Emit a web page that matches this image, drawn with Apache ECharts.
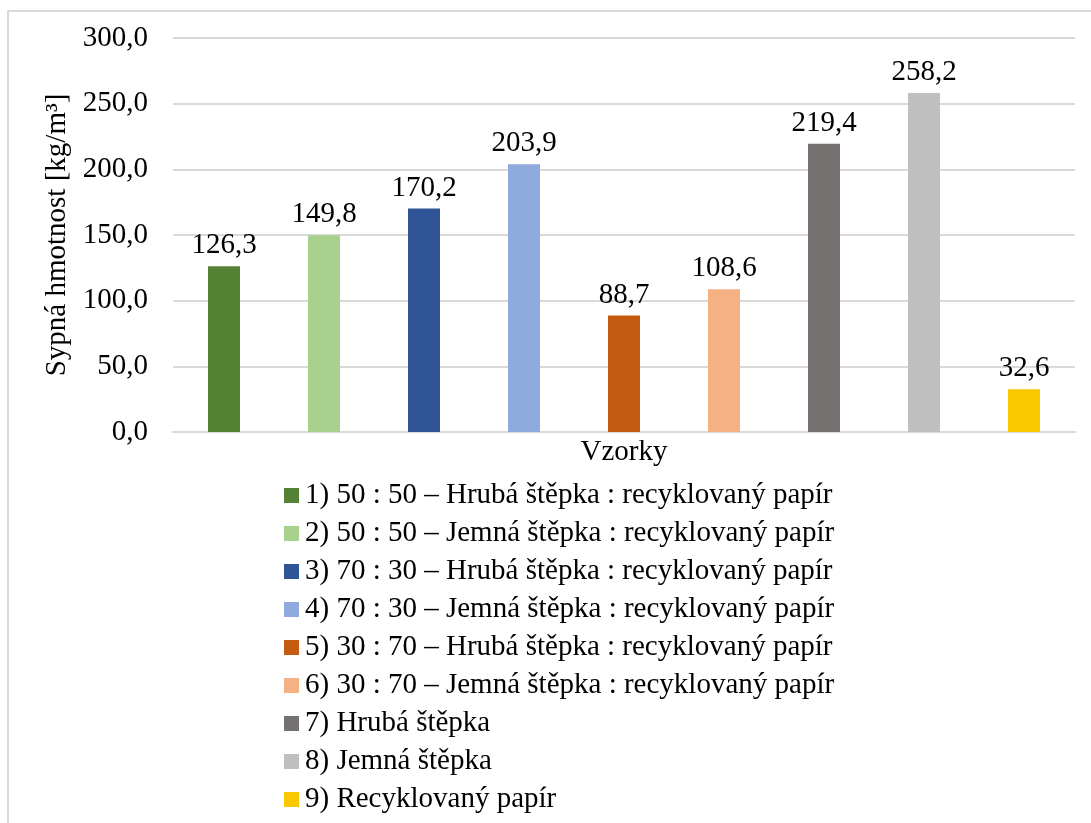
<!DOCTYPE html>
<html>
<head>
<meta charset="utf-8">
<script src="https://cdn.jsdelivr.net/npm/echarts@6/dist/echarts.min.js"></script>
<style>
  html, body { margin: 0; padding: 0; background: #fff; }
  #chart { width: 1091px; height: 823px; }
</style>
</head>
<body>
<div id="chart"></div>
<script>
// data
var sampleNames = [
    '1) 50 : 50 – Hrubá štěpka : recyklovaný papír',
    '2) 50 : 50 – Jemná štěpka : recyklovaný papír',
    '3) 70 : 30 – Hrubá štěpka : recyklovaný papír',
    '4) 70 : 30 – Jemná štěpka : recyklovaný papír',
    '5) 30 : 70 – Hrubá štěpka : recyklovaný papír',
    '6) 30 : 70 – Jemná štěpka : recyklovaný papír',
    '7) Hrubá štěpka',
    '8) Jemná štěpka',
    '9) Recyklovaný papír'
];
var densities = [126.3, 149.8, 170.2, 203.9, 88.7, 108.6, 219.4, 258.2, 32.6];
var barColors = ['#548235', '#a9d18e', '#2f5597', '#8faadc', '#c55a11', '#f4b183', '#767171', '#bfbfbf', '#fac800'];

var font = 'Liberation Serif, Times New Roman, serif';
var fs = 29;

function czNum(v) {
    return v.toFixed(1).replace('.', ',');
}

var myChart = echarts.init(document.getElementById('chart'), null, { renderer: 'canvas' });

var series = sampleNames.map(function (name, i) {
    return {
        name: name,
        type: 'bar',
        data: [densities[i]],
        barWidth: 32,
        barGap: '212.5%',
        itemStyle: { color: barColors[i] },
        label: {
            show: true,
            position: 'top',
            distance: 6,
            fontFamily: font,
            fontSize: fs,
            color: '#000',
            formatter: function (p) { return czNum(p.value); }
        }
    };
});

var option = {
    backgroundColor: '#fff',
    animation: false,
    textStyle: { fontFamily: font },
    graphic: [{
        type: 'rect',
        shape: { x: 8, y: 11, width: 1100, height: 840 },
        style: { fill: 'none', stroke: '#d9d9d9', lineWidth: 2 },
        silent: true
    }],
    grid: { left: 173, right: 16, top: 38, bottom: 391 },
    legend: {
        orient: 'vertical',
        left: 279,
        top: 476,
        itemWidth: 15,
        itemHeight: 15,
        itemGap: 9,
        icon: 'rect',
        textStyle: { fontFamily: font, fontSize: fs, color: '#000', padding: [0, 0, 0, 1] },
        data: sampleNames
    },
    xAxis: {
        type: 'category',
        data: [''],
        name: 'Vzorky',
        nameLocation: 'middle',
        nameGap: 6,
        nameTextStyle: { fontFamily: font, fontSize: fs, color: '#000' },
        axisLine: { lineStyle: { color: '#d9d9d9', width: 2 } },
        axisTick: { show: false },
        axisLabel: { show: false }
    },
    yAxis: {
        type: 'value',
        min: 0,
        max: 300,
        interval: 50,
        name: 'Sypná hmotnost [kg/m³]',
        nameLocation: 'middle',
        nameRotate: 90,
        nameGap: 101,
        nameTextStyle: { fontFamily: font, fontSize: fs, color: '#000' },
        axisLine: { show: false },
        axisTick: { show: false },
        axisLabel: {
            margin: 25,
            fontFamily: font,
            fontSize: fs,
            color: '#000',
            formatter: function (v) { return czNum(v); }
        },
        splitLine: { lineStyle: { color: '#d9d9d9', width: 2 } }
    },
    series: series
};

myChart.setOption(option);
</script>
</body>
</html>
